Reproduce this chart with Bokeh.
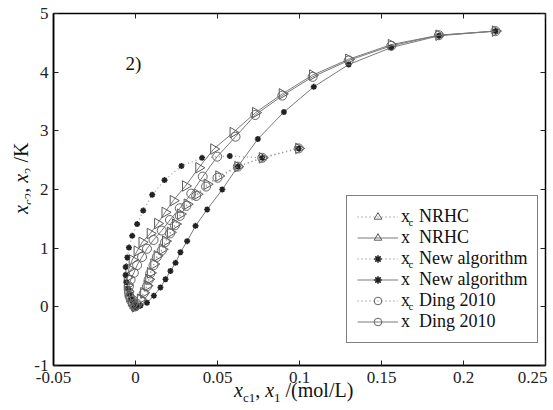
import numpy as np
from bokeh.plotting import figure
from bokeh.models import Label, Legend, LegendItem, LinearAxis, FixedTicker, Range1d, Div
from bokeh.layouts import row, column
from bokeh.embed import file_html
from bokeh.resources import INLINE

# ---------------- data ----------------
x_ticks = [-0.05, 0, 0.05, 0.1, 0.15, 0.2, 0.25]
x_tick_labels = ["-0.05", "0", "0.05", "0.1", "0.15", "0.2", "0.25"]
y_ticks = [-1, 0, 1, 2, 3, 4, 5]
y_tick_labels = ["-1", "0", "1", "2", "3", "4", "5"]

# x_c NRHC (dotted, triangles)
xc_nrhc_x1 = [0.0995, 0.0773, 0.0624, 0.0508, 0.0437, 0.0376, 0.0315, 0.0274, 0.0244, 0.0213, 0.0183,
              0.0163, 0.0132, 0.0112, 0.0091, 0.0081, 0.0071, 0.005, 0.003, 0.001, 0.0]
xc_nrhc_x2 = [2.70, 2.54, 2.39, 2.23, 2.09, 1.92, 1.75, 1.58, 1.41, 1.27, 1.12,
              0.98, 0.87, 0.73, 0.58, 0.47, 0.36, 0.24, 0.13, 0.05, 0.01]
# x NRHC (solid, triangles)
x_nrhc_x1 = [0.2195, 0.185, 0.156, 0.130, 0.108, 0.0895, 0.0732, 0.0595, 0.0477, 0.0386, 0.0305, 0.023,
             0.018, 0.0135, 0.009, 0.004, 0.001, -0.002, -0.004, -0.005, -0.005, -0.0045, -0.0035,
             -0.0025, -0.0015, -0.0005, 0.0]
x_nrhc_x2 = [4.70, 4.63, 4.47, 4.22, 3.95, 3.63, 3.31, 2.97, 2.69, 2.37, 2.06, 1.81,
             1.61, 1.42, 1.25, 1.10, 0.95, 0.80, 0.65, 0.50, 0.37, 0.26, 0.17,
             0.10, 0.05, 0.02, 0.0]
# x_c New algorithm (dotted, stars)
xc_new_x1 = [0.0995, 0.0773, 0.0575, 0.0406, 0.028, 0.0177, 0.0102, 0.0047, 0.001, -0.002, -0.004,
             -0.005, -0.006, -0.006, -0.0055, -0.0045, -0.0035, -0.0025, -0.0015, -0.0008, 0.0]
xc_new_x2 = [2.70, 2.54, 2.57, 2.54, 2.40, 2.16, 1.91, 1.64, 1.41, 1.21, 1.01,
             0.84, 0.68, 0.54, 0.42, 0.31, 0.22, 0.14, 0.08, 0.04, 0.01]
# x New algorithm (solid, stars)
x_new_x1 = [0.2195, 0.185, 0.156, 0.130, 0.1087, 0.0905, 0.0746, 0.0624, 0.0529, 0.0437, 0.0366,
            0.0315, 0.0274, 0.0244, 0.0213, 0.0183, 0.0152, 0.0112, 0.007, 0.003, 0.0]
x_new_x2 = [4.70, 4.62, 4.42, 4.13, 3.75, 3.32, 2.86, 2.39, 2.00, 1.66, 1.38,
            1.12, 0.93, 0.75, 0.61, 0.47, 0.33, 0.19, 0.07, 0.02, 0.0]
# x_c Ding 2010 (dotted, circles)
xc_ding_x1 = [0.0995, 0.0773, 0.0624, 0.0500, 0.0430, 0.0370, 0.0310, 0.0270, 0.0240, 0.0210, 0.0180,
              0.0160, 0.0130, 0.0110, 0.0090, 0.0080, 0.0070, 0.005, 0.003, 0.001, 0.0]
xc_ding_x2 = [2.70, 2.54, 2.39, 2.20, 2.05, 1.89, 1.72, 1.55, 1.39, 1.25, 1.10,
              0.96, 0.85, 0.71, 0.57, 0.46, 0.35, 0.23, 0.12, 0.05, 0.01]
# x Ding 2010 (solid, circles)
x_ding_x1 = [0.2195, 0.185, 0.156, 0.130, 0.108, 0.0895, 0.073, 0.061, 0.0498, 0.041, 0.034, 0.027,
             0.021, 0.016, 0.011, 0.007, 0.004, 0.001, -0.001, -0.003, -0.004, -0.004, -0.0035,
             -0.0025, -0.0015, 0.0]
x_ding_x2 = [4.70, 4.63, 4.45, 4.20, 3.92, 3.60, 3.27, 2.90, 2.56, 2.22, 1.93, 1.68,
             1.48, 1.30, 1.14, 0.99, 0.85, 0.71, 0.58, 0.46, 0.35, 0.25, 0.17,
             0.10, 0.05, 0.01]

legend_names = ["NRHC", "NRHC", "New algorithm", "New algorithm", "Ding 2010", "Ding 2010"]

# ---------------- layout constants ----------------
XMIN, XMAX, YMIN, YMAX = -0.05, 0.25, -1, 5
YDIV_W = 30
FW, FH = 492, 352
L_BORDER, T_BORDER, B_BORDER = 23, 13, 27
FRAME_LEFT = YDIV_W + L_BORDER     # page px
FRAME_TOP = T_BORDER
FIG_H = T_BORDER + FH + B_BORDER
FONT = "Liberation Serif"

p = figure(frame_width=FW, frame_height=FH,
           x_range=Range1d(XMIN, XMAX), y_range=Range1d(YMIN, YMAX),
           output_backend="svg", toolbar_location=None,
           min_border_left=L_BORDER, min_border_top=T_BORDER,
           min_border_right=2, min_border_bottom=B_BORDER, margin=0)
p.grid.visible = False
p.outline_line_color = "black"
p.outline_line_width = 1.5
p.background_fill_color = "white"
p.border_fill_color = "white"

for ax, ticks, labels in ((p.xaxis[0], x_ticks, x_tick_labels), (p.yaxis[0], y_ticks, y_tick_labels)):
    ax.axis_label = None
    ax.axis_label_standoff = 0
    ax.ticker = FixedTicker(ticks=ticks)
    ax.major_label_overrides = {t: l for t, l in zip(ticks, labels)}
    ax.major_tick_in = 5
    ax.major_tick_out = 0
    ax.minor_tick_line_color = None
    ax.axis_line_width = 1.5
    ax.axis_line_color = "black"
    ax.major_tick_line_color = "#222"
    ax.major_label_text_font = FONT
    ax.major_label_text_font_size = "17px"
    ax.major_label_text_color = "#222"
p.xaxis[0].major_label_standoff = 6
p.yaxis[0].major_label_standoff = 5

# mirrored tick marks (top, right), no labels
top_ax = LinearAxis(ticker=FixedTicker(ticks=x_ticks), axis_label=None)
right_ax = LinearAxis(ticker=FixedTicker(ticks=y_ticks), axis_label=None)
for ax, ticks in ((top_ax, x_ticks), (right_ax, y_ticks)):
    ax.axis_label_standoff = 0
    ax.major_tick_in = 5
    ax.major_tick_out = 0
    ax.minor_tick_line_color = None
    ax.major_label_overrides = {t: "" for t in ticks}
    ax.major_label_text_font_size = "1px"
    ax.major_label_standoff = 0
    ax.axis_line_color = None
    ax.major_tick_line_color = "#222"
p.add_layout(top_ax, "above")
p.add_layout(right_ax, "right")

# ---------------- series ----------------
SOLID = dict(line_color="#7a7a7a", line_width=1)
DOTTED = dict(line_color="#a0a0a0", line_width=1.3, line_dash="1 3")
TRI = dict(marker="triangle", size=10.5, angle=-np.pi / 2, fill_color=None, line_color="#5a5a5a", line_width=1)
STAR = dict(marker="asterisk", size=6, line_color="#222", line_width=1.6)
CIRC = dict(marker="circle", size=9, fill_color=None, line_color="#666", line_width=1)

series = [
    (xc_nrhc_x1, xc_nrhc_x2, DOTTED, TRI),
    (x_nrhc_x1, x_nrhc_x2, SOLID, TRI),
    (xc_new_x1, xc_new_x2, DOTTED, STAR),
    (x_new_x1, x_new_x2, SOLID, STAR),
    (xc_ding_x1, xc_ding_x2, DOTTED, CIRC),
    (x_ding_x1, x_ding_x2, SOLID, CIRC),
]
items = []
for (xs, ys, lstyle, mstyle), name in zip(series, legend_names):
    lr = p.line(xs, ys, **lstyle)
    sr = p.scatter(xs, ys, **mstyle)
    items.append(LegendItem(label="x  " + name, renderers=[lr, sr]))

legend = Legend(items=items, location=(293, 22), orientation="vertical",
                label_text_font=FONT, label_text_font_size="18px", label_text_color="#111",
                padding=10, spacing=0, margin=0, glyph_width=41, glyph_height=19,
                label_height=19, label_standoff=3,
                border_line_color="black", border_line_width=1.5,
                background_fill_color="white", background_fill_alpha=0.0)
p.add_layout(legend, "center")

# ---------------- text annotations inside the frame ----------------
def px2x(px):
    return XMIN + (px - FRAME_LEFT) * (XMAX - XMIN) / FW

def py2y(py):
    return YMAX - (py - FRAME_TOP) * (YMAX - YMIN) / FH

def add_text(text, px, py, size, style="normal"):
    p.add_layout(Label(x=px2x(px), y=py2y(py), text=text, level="overlay",
                       text_font=FONT, text_font_size=size, text_font_style=style,
                       text_color="#111", text_align="left", text_baseline="alphabetic"))

add_text("2)", 125, 63, "19px")          # panel tag
for i in (0, 2, 4):                       # legend subscripts "c"
    add_text("c", 408, 221 + 21 * i, "11px")

# ---------------- axis titles (HTML, with sub-scripts) ----------------
SUB = "font-size:13px; vertical-align:-5px; line-height:0"
BASE = ("font-family:'Liberation Serif', serif; font-size:20px; line-height:20px; "
        "color:#111; white-space:nowrap;")

ylab_html = (
    f'<div style="position:relative; width:{YDIV_W}px; height:{FIG_H}px;">'
    f'<div style="position:absolute; left:11px; top:214px; transform-origin:0 0; '
    f'transform:rotate(-90deg); {BASE}">'
    f'<i>x</i><span style="{SUB}">c2</span>, <i>x</i><span style="{SUB}">2</span> /K'
    f'</div></div>')
ydiv = Div(text=ylab_html, width=YDIV_W, height=FIG_H, margin=0)

XDIV_H = 16
xlab_html = (
    f'<div style="position:relative; width:520px; height:{XDIV_H}px; overflow:visible;">'
    f'<div style="position:absolute; left:234px; top:-12px; {BASE}">'
    f'<i>x</i><span style="{SUB}">c1</span>, <i>x</i><span style="{SUB}">1</span> /(mol/L)'
    f'</div></div>')
xdiv = Div(text=xlab_html, width=520, height=XDIV_H, margin=0, styles={"overflow": "visible"})

layout = column(row(ydiv, p, margin=0, spacing=0), xdiv, margin=0, spacing=0)

open("out.html", "w").write(file_html(layout, INLINE))
